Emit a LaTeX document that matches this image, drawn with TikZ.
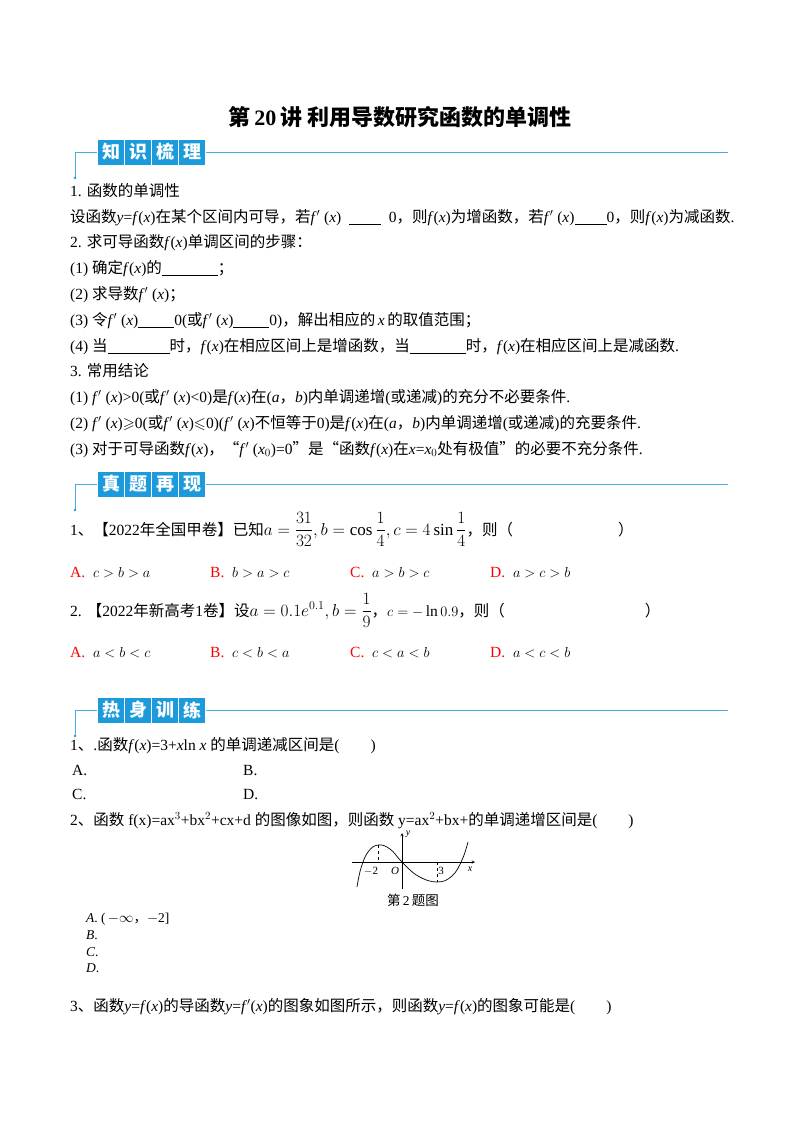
\documentclass[tikz,border=0pt]{standalone}
\usepackage{amsmath,amssymb}
\usepackage{fontspec}
\setmainfont{Liberation Serif}
\newfontfamily\cjk{Noto Sans CJK SC}
\newcommand\zh[1]{{\cjk #1}}
\newcommand\vi[1]{\textit{#1}}
\newcommand\bl[1]{\underline{\hspace{#1}}}
\begin{document}
\begin{tikzpicture}[x=1pt,y=-1pt,
  t/.style={anchor=base west,inner sep=0pt,font=\fontsize{15.5}{17}\selectfont},
  ts/.style={anchor=base west,inner sep=0pt,font=\fontsize{13.5}{15}\selectfont},
  hbox/.style={fill=hb,draw=white,line width=0.6pt,minimum width=27pt,minimum height=26pt,inner sep=0pt,text=white,font=\cjk\fontsize{18}{18}\selectfont\bfseries},
  hl/.style={draw=hb!80,line width=0.8pt}]
\definecolor{hb}{HTML}{1C9BDC}
\useasboundingbox (0,0) rectangle (800,1132);
\node[anchor=base,inner sep=0pt,font=\fontsize{22}{24}\selectfont\bfseries] (title) at (400,125) {\zh{第}\,20\,\zh{讲 利用导数研究函数的单调性}};
\foreach \y/\a/\b/\c/\d/\n in {152/知/识/梳/理/h1,484/真/题/再/现/h2,710/热/身/训/练/h3}{
  \coordinate (\n l) at (75,\y); \coordinate (\n r) at (728,\y);
  \coordinate (\n d) at (75,\y+26);
  \draw[hl] (\n l) -- (\n r);
  \draw[hl] (\n l) -- (\n d);
  \fill[hb] (\n d) circle (1.4pt);
  \node[hbox] (\n a) at (111,\y) {\a};
  \node[hbox] (\n b) at (138,\y) {\b};
  \node[hbox] (\n c) at (165,\y) {\c};
  \node[hbox] (\n e) at (192,\y) {\d};
}
\node[t] (l1) at (70,196) {1. \zh{函数的单调性}};
\node[t] (l2) at (70,222) {\zh{设函数}\vi{y}=\vi{f}(\vi{x})\zh{在某个区间内可导，若}\vi{f}$'$\ (\vi{x})\ \ \bl{32pt}\ \ 0\zh{，则}\vi{f}(\vi{x})\zh{为增函数，若}\vi{f}$'$\ (\vi{x})\bl{32pt}0\zh{，则}\vi{f}(\vi{x})\zh{为减函数}.};
\node[t] (l3) at (70,247) {2. \zh{求可导函数}\vi{f}(\vi{x})\zh{单调区间的步骤：}};
\node[t] (l4) at (70,273) {(1) \zh{确定}\vi{f}(\vi{x})\zh{的}\bl{56pt}\zh{；}};
\node[t] (l5) at (70,299) {(2) \zh{求导数}\vi{f}$'$\ (\vi{x})\zh{；}};
\node[t] (l6) at (70,325) {(3) \zh{令}\vi{f}$'$\ (\vi{x})\bl{36pt}0(\zh{或}\vi{f}$'$\ (\vi{x})\bl{36pt}0)\zh{，解出相应的}\,\vi{x}\,\zh{的取值范围；}};
\node[t] (l7) at (70,351) {(4) \zh{当}\bl{62pt}\zh{时，}\vi{f}(\vi{x})\zh{在相应区间上是增函数，当}\bl{56pt}\zh{时，}\vi{f}(\vi{x})\zh{在相应区间上是减函数}.};
\node[t] (l8) at (70,376) {3. \zh{常用结论}};
\node[t] (l9) at (70,402) {(1) \vi{f}$'$\ (\vi{x})>0(\zh{或}\vi{f}$'$\ (\vi{x})<0)\zh{是}\vi{f}(\vi{x})\zh{在}(\vi{a}\zh{，}\vi{b})\zh{内单调递增}(\zh{或递减})\zh{的充分不必要条件}.};
\node[t] (l10) at (70,428) {(2) \vi{f}$'$\ (\vi{x})$\geqslant$0(\zh{或}\vi{f}$'$\ (\vi{x})$\leqslant$0)(\vi{f}$'$\ (\vi{x})\zh{不恒等于}0)\zh{是}\vi{f}(\vi{x})\zh{在}(\vi{a}\zh{，}\vi{b})\zh{内单调递增}(\zh{或递减})\zh{的充要条件}.};
\node[t] (l11) at (70,454) {(3) \zh{对于可导函数}\vi{f}(\vi{x})\zh{，“}\vi{f}$'$\ (\vi{x}$_0$)=0\zh{”是“函数}\vi{f}(\vi{x})\zh{在}\vi{x}=\vi{x}$_0$\zh{处有极值”的必要不充分条件}.};
\node[t] (q1) at (70,535) {1\zh{、【}2022\zh{年全国甲卷】已知}{\fontsize{17}{19}\selectfont$a=\dfrac{31}{32},b=\cos\dfrac14,c=4\sin\dfrac14$}\zh{，则（}\hspace{105pt}\zh{）}};
\foreach \x/\l/\m in {70/A/c>b>a,210/B/b>a>c,350/C/a>b>c,490/D/a>c>b}
  \node[t] (q1\l) at (\x,577) {\textcolor{red}{\l.}\ \ $\m$};
\node[t] (q2) at (70,616) {2. \zh{【}2022\zh{年新高考}1\zh{卷】设}{\fontsize{17}{19}\selectfont$a=0.1e^{0.1},b=\dfrac19$}\zh{，}$c=-\ln0.9$\zh{，则（}\hspace{140pt}\zh{）}};
\foreach \x/\l/\m in {70/A/a<b<c,210/B/c<b<a,350/C/c<a<b,490/D/a<c<b}
  \node[t] (q2\l) at (\x,657) {\textcolor{red}{\l.}\ \ $\m$};
\node[t] (r1) at (70,750) {1\zh{、}.\zh{函数}\vi{f}(\vi{x})=3+\vi{x}ln\ \vi{x}\ \zh{的单调递减区间是}(\qquad)};
\node[t] (r1A) at (72,775) {A.};
\node[t] (r1B) at (243,775) {B.};
\node[t] (r1C) at (72,799) {C.};
\node[t] (r1D) at (243,799) {D.};
\node[t] (r2) at (70,825) {2\zh{、函数} f(x)=ax$^3$+bx$^2$+cx+d \zh{的图像如图，则函数} y=ax$^2$+bx+\zh{的单调递增区间是}(\qquad)};
\coordinate (O) at (402,862);
\draw[->,>=stealth,line width=0.5pt] (352,862) -- (475,862);
\draw[->,>=stealth,line width=0.5pt] (402,889) -- (402,833);
\draw[line width=0.7pt] plot[smooth,tension=0.7] coordinates {(357,887) (361,868) (368,852) (378,845) (390,849) (402,862) (418,876) (437,882) (452,876) (462,860) (468,842)};
\draw[dashed,line width=0.4pt] (378,845) -- (378,862);
\draw[dashed,line width=0.4pt] (437,862) -- (437,882);
\node[inner sep=0pt,font=\fontsize{11}{11}\selectfont] (m2) at (371,871) {$-$2};
\node[inner sep=0pt,font=\itshape\fontsize{11}{11}\selectfont] (o) at (395,871) {O};
\node[inner sep=0pt,font=\fontsize{11}{11}\selectfont] (t3) at (441,871) {3};
\node[inner sep=0pt,font=\itshape\fontsize{10}{10}\selectfont] (xl) at (470,869) {x};
\node[inner sep=0pt,font=\itshape\fontsize{10}{10}\selectfont] (yl) at (408,834) {y};
\node[anchor=base,inner sep=0pt,font=\fontsize{13.5}{14}\selectfont] (cap) at (413,905) {\zh{第}\,2\,\zh{题图}};
\node[ts] (oA) at (86,922) {\textit{A}. (\,$-\infty$\zh{，}$-$2]};
\node[ts] (oB) at (86,939) {\textit{B}.};
\node[ts] (oC) at (86,956) {\textit{C}.};
\node[ts] (oD) at (86,972) {\textit{D}.};
\node[t] (r3) at (70,1011) {3\zh{、函数}\vi{y}=\vi{f}(\vi{x})\zh{的导函数}\vi{y}=\vi{f}$'$(\vi{x})\zh{的图象如图所示，则函数}\vi{y}=\vi{f}(\vi{x})\zh{的图象可能是}(\qquad)};
\end{tikzpicture}
\end{document}
